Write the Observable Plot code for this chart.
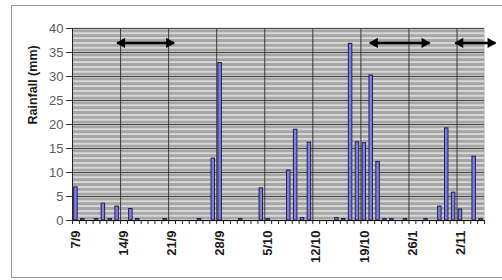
<!DOCTYPE html>
<html><head><meta charset="utf-8">
<script src="https://cdn.jsdelivr.net/npm/d3@7"></script>
<script src="https://cdn.jsdelivr.net/npm/@observablehq/plot@0.6"></script>
<style>
body{margin:0;background:#fff;}
#wrap{position:relative;width:502px;height:280px;overflow:hidden;}
#frame{position:absolute;left:11px;top:5px;width:492px;height:271px;border:1px solid #9a9a9a;pointer-events:none;}
</style></head><body><div id="wrap"><div id="frame"></div></div>
<script>
// daily rainfall (mm), starting 7/9, one value per day
const rainfall = [
  6.9, 0.3, 0, 0.3, 3.5, 0.3, 2.9,
  0, 2.4, 0.3, 0, 0, 0, 0.3,
  0, 0, 0, 0, 0.3, 0, 12.9,
  32.8, 0, 0, 0.3, 0, 0, 6.7,
  0.3, 0, 0, 10.4, 18.9, 0.5, 16.2,
  0, 0, 0, 0.5, 0.3, 36.8, 16.3,
  16.1, 30.2, 12.2, 0.3, 0.3, 0, 0.3,
  0, 0, 0.3, 0, 2.9, 19.2, 5.8,
  2.3, 0, 13.3, 0.3
];
const tickDays = [0, 7, 14, 21, 28, 35, 42, 49, 56];
const tickLabels = ["7/9", "14/9", "21/9", "28/9", "5/10", "12/10", "19/10", "26/1", "2/11"];
const arrowStart = [6.5, 43.3, 55.75];
const arrowEnd = [14.8, 52.0, 61.6];
const arrowLevel = 37;
const yTicks = [0, 5, 10, 15, 20, 25, 30, 35, 40];

const days = rainfall.map((v, i) => ({i, v})).filter(d => d.v > 0);
const labels = tickDays.map((d, k) => ({d, label: tickLabels[k]}));
const arrows = arrowStart.map((s, k) => ({s, e: arrowEnd[k], y: arrowLevel}));
const nDays = rainfall.length;

const chart = Plot.plot({
  width: 502, height: 280,
  marginLeft: 72, marginRight: 18, marginTop: 28, marginBottom: 60,
  x: {domain: [0, nDays], axis: null},
  y: {domain: [0, 40], axis: null},
  style: {fontFamily: "'Liberation Sans', Arial, sans-serif", background: "transparent", overflow: "visible"},
  marks: [
    Plot.frame({fill: "#a6a6a6", stroke: null}),
    Plot.ruleY(d3.range(0, 41), {stroke: "#d6d6d6", strokeWidth: 2}),
    Plot.ruleY(yTicks, {stroke: "#4a4a4a", strokeWidth: 1}),
    Plot.ruleX(tickDays.slice(1), {stroke: "#3a3a3a", strokeWidth: 1}),
    Plot.rectY(days, {x1: "i", x2: d => d.i + 1, y: "v", insetLeft: 1.7, insetRight: 1.7,
      fill: "#7f7fe6", stroke: "#1e1e48", strokeWidth: 1}),
    Plot.ruleX([0], {stroke: "#222"}),
    Plot.ruleY([0], {stroke: "#111"}),
    Plot.axisX({ticks: d3.range(0, nDays + 1), tickSize: 4, tickFormat: () => "", stroke: "#222", label: null}),
    Plot.axisY({ticks: yTicks, tickSize: 6, tickPadding: 3, fontSize: 13, fill: "#5a5a5a", stroke: "#333", label: null}),
    Plot.text(labels, {x: r => r.d + 0.5, y: () => 0, text: "label", rotate: -90, textAnchor: "end",
      dy: 10, fontWeight: "bold", fontSize: 13, fill: "#1a1a1a"}),
    Plot.text(["Rainfall (mm)"], {frameAnchor: "left", rotate: -90, dx: -40, fontWeight: "bold", fontSize: 12.5, fill: "#1a1a1a"}),
    Plot.link(arrows, {x1: "s", x2: "e", y1: "y", y2: "y", stroke: "#000", strokeWidth: 2.5}),
    Plot.dot(arrows, {x: "e", y: "y", symbol: "triangle", rotate: 90, r: 3.8, fill: "#000", dx: -5}),
    Plot.dot(arrows, {x: "s", y: "y", symbol: "triangle", rotate: -90, r: 3.8, fill: "#000", dx: 5})
  ]
});
document.getElementById("wrap").prepend(chart);
</script>
</body></html>
